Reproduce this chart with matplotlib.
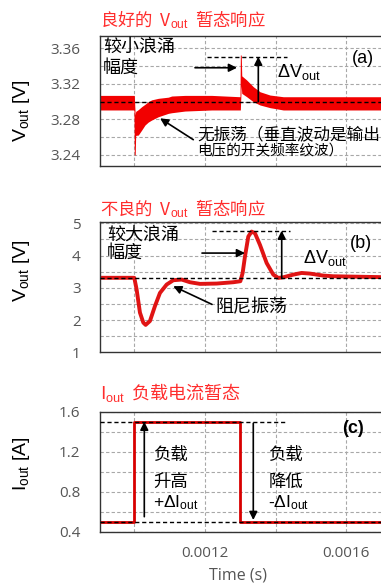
import matplotlib
matplotlib.use("Agg")
import matplotlib.pyplot as plt
import numpy as np

plt.rcParams['font.family'] = ['Noto Sans CJK SC', 'DejaVu Sans']
plt.rcParams['mathtext.fontset'] = 'custom'
plt.rcParams['mathtext.rm'] = 'Liberation Sans'
plt.rcParams['mathtext.it'] = 'Liberation Sans:italic'
plt.rcParams['mathtext.bf'] = 'Liberation Sans:bold'

# ---------------- data ----------------
# (a) good transient: ripple band envelope (upper / lower)
t_a = [0.000903, 0.000999, 0.0010, 0.0010025, 0.0010040, 0.0010113, 0.0010209,
       0.0010303, 0.0010396, 0.0010492, 0.0010679, 0.0010962, 0.0011058,
       0.0011434, 0.0012190, 0.001299, 0.0013, 0.0013025, 0.0013040,
       0.0013180, 0.0013366, 0.0013556, 0.0013839, 0.0014215, 0.0018]
va_upper = [3.307, 3.307, 3.307, 3.285, 3.289, 3.291, 3.2943,
            3.297, 3.2999, 3.302, 3.3037, 3.305, 3.3063,
            3.307, 3.307, 3.3055, 3.3524, 3.3524, 3.329,
            3.3243, 3.3168, 3.3111, 3.3074, 3.3055, 3.3055]
va_lower = [3.2906, 3.2906, 3.240, 3.240, 3.262, 3.2624, 3.268,
            3.2737, 3.277, 3.2793, 3.283, 3.2868, 3.2875,
            3.2894, 3.2906, 3.2906, 3.2906, 3.318, 3.3093,
            3.3055, 3.2999, 3.2962, 3.2932, 3.2906, 3.2906]

# (b) poor transient
t_b = [0.000903, 0.0010, 0.0010066, 0.0010160, 0.0010255, 0.0010321, 0.0010443,
       0.0010585, 0.0010726, 0.0010915, 0.0011103, 0.0011339, 0.0011575,
       0.0011858, 0.0012329, 0.0012801, 0.0013, 0.0013065, 0.0013131,
       0.0013225, 0.0013319, 0.0013414, 0.0013555, 0.0013744, 0.0013932,
       0.0014074, 0.0014215, 0.0014498, 0.0014734, 0.0014969, 0.0015347,
       0.0015629, 0.0018]
vb = [3.31, 3.31, 2.947, 2.23, 1.92, 1.85, 1.97,
      2.434, 2.84, 3.10, 3.234, 3.255, 3.172,
      3.121, 3.131, 3.172, 3.203, 3.46, 3.972,
      4.588, 4.742, 4.69, 4.33, 3.768, 3.408,
      3.306, 3.326, 3.408, 3.46, 3.44, 3.378,
      3.357, 3.31]

# (c) load current step
t_c = [0.000903, 0.0010, 0.0010, 0.0013, 0.0013, 0.0018]
ic = [0.5, 0.5, 1.5, 1.5, 0.5, 0.5]

xticks = [0.0010, 0.0012, 0.0014, 0.0016, 0.0018]
xticklabels = ['', '0.0012', '', '0.0016', '']
yticks_a = [3.24, 3.28, 3.32, 3.36]
yticklabels_a = ['3.24', '3.28', '3.32', '3.36']
ygrid_a = [3.24, 3.26, 3.28, 3.30, 3.32, 3.34, 3.36]
yticks_b = [1, 2, 3, 4, 5]
yticklabels_b = ['1', '2', '3', '4', '5']
ygrid_b = [1.5, 2, 2.5, 3, 3.5, 4, 4.5, 5]
yticks_c = [0.4, 0.8, 1.2, 1.6]
yticklabels_c = ['0.4', '0.8', '1.2', '1.6']
ygrid_c = [0.4, 0.6, 0.8, 1.0, 1.2, 1.4, 1.6]

# ---------------- figure ----------------
W, H = 381, 585
fig = plt.figure(figsize=(W / 100, H / 100), dpi=100)

def fx(px):
    return px / W

def fy(py):
    return 1 - py / H

left = fx(100)
width = (417.1 - 100) / W
ax_a = fig.add_axes([left, fy(166), width, 130 / H])
ax_b = fig.add_axes([left, fy(352.3), width, 130 / H])
ax_c = fig.add_axes([left, fy(531.7), width, 120 / H])

RED = '#f20000'
TITLE_RED = '#ff2d2d'
TICK_GREY = '#555555'
GRID = '#a8a8a8'

def style(ax, yticks, ylabels, ygrid, ylim, show_x):
    ax.set_xlim(0.000903, 0.0018)
    ax.set_ylim(*ylim)
    ax.set_xticks(xticks)
    ax.set_xticklabels(xticklabels if show_x else [''] * len(xticks),
                       family='Open Sans', fontsize=11, color=TICK_GREY)
    ax.set_yticks(yticks)
    ax.set_yticklabels(ylabels, family='Open Sans', fontsize=11, color=TICK_GREY)
    ax.set_yticks(ygrid, minor=True)
    ax.tick_params(axis='both', which='both', length=0)
    ax.tick_params(axis='y', pad=14)
    ax.tick_params(axis='x', pad=10)
    for x in xticks:
        ax.axvline(x, color=GRID, ls=(0, (3, 2)), lw=0.8, zorder=0)
    for y in ygrid:
        ax.axhline(y, color=GRID, ls=(0, (3, 2)), lw=0.8, zorder=0)
    for s in ax.spines.values():
        s.set_color('#333333')
        s.set_linewidth(1.0)

arrow_kw = dict(arrowstyle='-|>', color='black', lw=1.2, mutation_scale=12,
                shrinkA=0, shrinkB=0)
latin = ['Liberation Sans', 'DejaVu Sans']

# ---- (a) ----
ax = ax_a
style(ax, yticks_a, yticklabels_a, ygrid_a, (3.2276, 3.3738), False)
ax.fill_between(t_a, va_lower, va_upper, color=RED, lw=0, zorder=2)
ax.axhline(3.30, color='black', ls=(0, (3, 2)), lw=1.0, zorder=3)
ax.plot([0.0012057, 0.0014320], [3.3505, 3.3505], color='black',
        ls=(0, (3, 2)), lw=1.0, zorder=3)
ax.text(0.0009115, 3.3618, '较小浪涌', fontsize=13, va='center', ha='left', zorder=4)
ax.text(0.0009115, 3.3375, '幅度', fontsize=13, va='center', ha='left', zorder=4)
ax.annotate('', xy=(0.0012905, 3.3381), xytext=(0.0011717, 3.3381),
            arrowprops=arrow_kw, zorder=4)
ax.annotate('', xy=(0.0013508, 3.3505), xytext=(0.0013508, 3.300),
            arrowprops=arrow_kw, zorder=4)
ax.text(0.0014028, 3.3336, r'ΔV$_{\rm out}$', fontsize=13, family=latin,
        va='center', ha='left', zorder=4)
ax.text(0.001615, 3.3487, '(a)', fontsize=13, family=latin, va='center',
        ha='left', zorder=4)
ax.text(0.0011779, 3.2624, '无振荡（垂直波动是输出', fontsize=12, va='center',
        ha='left', zorder=4)
ax.text(0.0011779, 3.2437, '电压的开关频率纹波）', fontsize=10.5, va='center',
        ha='left', zorder=4)
ax.annotate('', xy=(0.0010730, 3.2812), xytext=(0.0011669, 3.2572),
            arrowprops=arrow_kw, zorder=4)

# ---- (b) ----
ax = ax_b
style(ax, yticks_b, yticklabels_b, ygrid_b, (1.0, 5.03), False)
ax.plot(t_b, vb, color='#e01414', lw=2.8, zorder=2, solid_joinstyle='round')
ax.axhline(3.31, color='black', ls=(0, (3, 2)), lw=1.0, zorder=3)
ax.plot([0.0012198, 0.0014405], [4.772, 4.772], color='black',
        ls=(0, (3, 2)), lw=1.0, zorder=3)
ax.text(0.0009228, 4.639, '较大浪涌', fontsize=13, va='center', ha='left', zorder=4)
ax.text(0.0009228, 4.076, '幅度', fontsize=13, va='center', ha='left', zorder=4)
ax.annotate('', xy=(0.0013132, 4.076), xytext=(0.0011915, 4.076),
            arrowprops=arrow_kw, zorder=4)
ax.annotate('', xy=(0.0014170, 4.772), xytext=(0.0014170, 3.31),
            arrowprops=arrow_kw, zorder=4)
ax.text(0.0014781, 3.922, r'ΔV$_{\rm out}$', fontsize=13, family=latin,
        va='center', ha='left', zorder=4)
ax.text(0.0016102, 4.384, '(b)', fontsize=13, family=latin, va='center',
        ha='left', zorder=4)
ax.text(0.0012283, 2.384, '阻尼振荡', fontsize=13, va='center', ha='left', zorder=4)
ax.annotate('', xy=(0.0011103, 3.049), xytext=(0.0012198, 2.485),
            arrowprops=arrow_kw, zorder=4)

# ---- (c) ----
ax = ax_c
style(ax, yticks_c, yticklabels_c, ygrid_c, (0.4, 1.6), True)
ax.plot(t_c, ic, color='#d80000', lw=2.0, zorder=2)
ax.axhline(0.5, color='black', ls=(0, (3, 2)), lw=1.0, zorder=3)
ax.plot([0.000903, 0.0014320], [1.5, 1.5], color='black',
        ls=(0, (3, 2)), lw=1.0, zorder=3)
ax.annotate('', xy=(0.0010283, 1.50), xytext=(0.0010283, 0.55),
            arrowprops=arrow_kw, zorder=4)
ax.annotate('', xy=(0.0013366, 0.517), xytext=(0.0013366, 1.484),
            arrowprops=arrow_kw, zorder=4)
ax.text(0.0010537, 1.167, '负载', fontsize=12.5, va='center', ha='left', zorder=4)
ax.text(0.0010537, 0.90, '升高', fontsize=12.5, va='center', ha='left', zorder=4)
ax.text(0.0010537, 0.69, r'+ΔI$_{\rm out}$', fontsize=12.5, family=latin,
        va='center', ha='left', zorder=4)
ax.text(0.0013791, 1.167, '负载', fontsize=12.5, va='center', ha='left', zorder=4)
ax.text(0.0013791, 0.90, '降低', fontsize=12.5, va='center', ha='left', zorder=4)
ax.text(0.0013791, 0.69, r'-ΔI$_{\rm out}$', fontsize=12.5, family=latin,
        va='center', ha='left', zorder=4)
ax.text(0.0015867, 1.434, '(c)', fontsize=13, family=latin, fontweight='bold',
        va='center', ha='left', zorder=4)

# ---- labels / titles ----
fig.text(fx(100), fy(20), r'良好的  V$_{\rm out}$  暂态响应', color=TITLE_RED,
         fontsize=12.5, ha='left', va='center')
fig.text(fx(100), fy(209), r'不良的  V$_{\rm out}$  暂态响应', color=TITLE_RED,
         fontsize=12.5, ha='left', va='center')
fig.text(fx(100), fy(392), r'I$_{\rm out}$  负载电流暂态', color=TITLE_RED,
         fontsize=13, ha='left', va='center')

fig.text(fx(22), fy(111), r'V$_{\rm out}$ [V]', rotation=90, fontsize=14,
         family=latin, ha='center', va='center')
fig.text(fx(22), fy(271), r'V$_{\rm out}$ [V]', rotation=90, fontsize=14,
         family=latin, ha='center', va='center')
fig.text(fx(22), fy(464), r'I$_{\rm out}$ [A]', rotation=90, fontsize=14,
         family=latin, ha='center', va='center')
fig.text(fx(238), fy(576), 'Time (s)', fontsize=11.5, family='Open Sans',
         color=TICK_GREY, ha='center', va='center')

fig.savefig('out.png', dpi=100)
